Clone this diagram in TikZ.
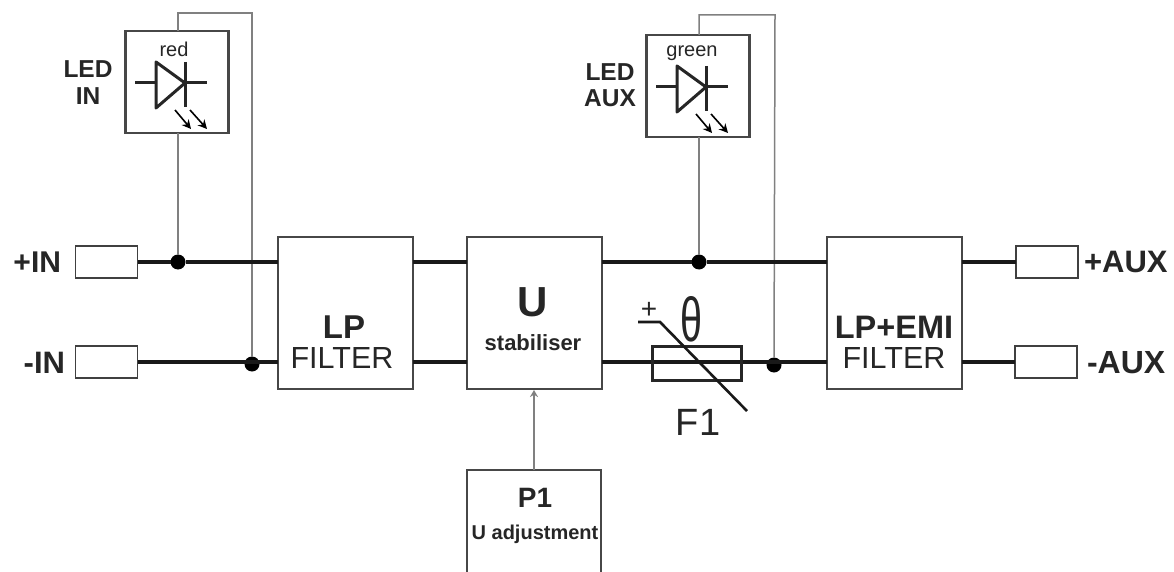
\documentclass[tikz,border=0pt]{standalone}
\usepackage{fontspec}
\usepackage{graphicx}
\setmainfont{Liberation Sans}
\usetikzlibrary{arrows.meta}
\newcommand{\fs}[1]{\fontsize{#1}{#1}\selectfont}
\tikzset{
 x=1pt,y=-1pt,
 blockbox/.style={draw=black!72,line width=2pt,fill=white,inner sep=0pt,outer sep=0pt,minimum width=135pt,minimum height=152pt},
 ledbox/.style={draw=black!72,line width=2.2pt,fill=white,inner sep=0pt,outer sep=0pt,minimum width=103pt,minimum height=102pt},
 term/.style={draw=black!75,line width=1.8pt,fill=white,inner sep=0pt,outer sep=0pt,minimum width=62pt,minimum height=32pt},
 dot/.style={circle,fill=black,inner sep=0pt,outer sep=0pt,minimum size=15pt},
 bus/.style={line width=3.2pt,black!90},
 thinwire/.style={line width=1.5pt,black!50},
 lbl/.style={inner sep=0pt,outer sep=0pt,align=center,text=black!85},
 sym/.style={line width=3pt,black!85},
 pics/ledsym/.style={code={
  \draw[sym,line join=round] (31,31) -- (31,77) -- (60,52) -- cycle;
  \draw[sym] (10,52) -- (31,52);
  \draw[sym] (60,31) -- (60,76);
  \draw[sym] (60,52) -- (82,52);
  \draw[line width=1.6pt,-{Stealth[length=9pt,width=9pt]}] (50,79) -- (66,98);
  \draw[line width=1.6pt,-{Stealth[length=9pt,width=9pt]}] (65,79) -- (82,98);
 }}
}
\begin{document}
\begin{tikzpicture}
\useasboundingbox (0,0) rectangle (1174,572);
\path[fill=white] (0,0) rectangle (1174,572);
% junctions
\node[dot] (j1) at (178,262) {};
\node[dot] (j2) at (252,364) {};
\node[dot] (j3) at (699,262) {};
\node[dot] (j4) at (774,365) {};
\coordinate (c1) at (178,13);
\coordinate (c2) at (252,13);
\coordinate (c3) at (699,15);
\coordinate (c4) at (775,15);
% terminals
\node[term] (tpi) at (106.5,262) {};
\node[term] (tmi) at (106.5,362) {};
\node[term] (tpa) at (1047,262) {};
\node[term] (tma) at (1046,362) {};
% blocks
\node[blockbox] (lp) at (345,313) {};
\node[blockbox] (u) at (534.5,313) {};
\node[blockbox] (emi) at (894.5,313) {};
\node[ledbox] (ledi) at (177,82) {};
\node[ledbox] (leda) at (698,86) {};
% thin wiring
\draw[thinwire] (ledi.south -| j1) -- (j1);
\draw[thinwire] (ledi.north -| c1) -- (c1) -- (c2) -- (j2);
\draw[thinwire] (leda.south -| j3) -- (j3);
\draw[thinwire] (leda.north -| c3) -- (c3) -- (c4) -- (j4);
% P1 open at the page bottom
\coordinate (p1a) at (467,573);
\coordinate (p1b) at (467,470);
\coordinate (p1c) at (601,470);
\coordinate (p1d) at (601,573);
\coordinate (p1t) at (534,470);
\coordinate (ut) at (534,390);
\draw[draw=black!72,line width=2pt] (p1a) -- (p1b) -- (p1c) -- (p1d);
\draw[thinwire,-{Stealth[length=7pt,width=8pt]}] (p1t) -- (ut);
% buses
\draw[bus] (tpi.east) -- (j1) -- (lp.west |- j1);
\draw[bus] (tmi.east) -- (lp.west |- tmi);
\draw[bus] (lp.east |- tpi) -- (u.west |- tpi);
\draw[bus] (lp.east |- tmi) -- (u.west |- tmi);
\draw[bus] (u.east |- tpi) -- (j3) -- (emi.west |- tpi);
\draw[bus] (u.east |- tmi) -- (emi.west |- tmi);
\draw[bus] (emi.east |- tpi) -- (tpa.west);
\draw[bus] (emi.east |- tma) -- (tma.west);
% LED symbols
\path (125,31) pic {ledsym};
\path (646,35) pic {ledsym};
% thermistor
\node[draw=black!85,line width=3pt,fill=none,minimum width=89pt,minimum height=34pt,inner sep=0pt,outer sep=0pt] (f1) at (697,363) {};
\coordinate (t1) at (638,322);
\coordinate (t2) at (660,322);
\coordinate (t3) at (747,411);
\draw[line width=2.6pt,black!90] (t1) -- (t2) -- (t3);
% labels
\node[lbl,font=\fs{24.5}\bfseries] (tledi) at (88,82.5) {LED\\[3pt]IN};
\node[lbl,font=\fs{24.5}\bfseries] (tleda) at (610,85) {LED\\[1pt]AUX};
\node[lbl,font=\fs{20}] (tred) at (174,49) {red};
\node[lbl,font=\fs{20}] (tgreen) at (692,53) {green};
\node[lbl,font=\fs{30}\bfseries,anchor=east] (tpin) at (61,262) {+IN};
\node[lbl,font=\fs{31}\bfseries,anchor=east] (tmin) at (65,363) {-IN};
\node[lbl,font=\fs{31}\bfseries,anchor=west] (tpau) at (1084,262) {+AUX};
\node[lbl,font=\fs{32}\bfseries,anchor=west] (tmau) at (1087,363) {-AUX};
\node[lbl,font=\fs{33}\bfseries] (tlp) at (344,327) {LP};
\node[lbl,font=\fs{30.5}] (tflt) at (342,358) {FILTER};
\node[lbl,font=\fs{42}\bfseries] (tu) at (533,302) {U};
\node[lbl,font=\fs{22}\bfseries] (tst) at (533,343) {stabiliser};
\node[lbl,font=\fs{32.5}\bfseries] (tem) at (894,327) {LP+EMI};
\node[lbl,font=\fs{30.5}] (tfl2) at (894,358) {FILTER};
\node[lbl,font=\fs{28}\bfseries] (tp1) at (535,498) {P1};
\node[lbl,font=\fs{20}\bfseries] (tua) at (535,534) {U adjustment};
\node[lbl,font=\fs{38}] (tf1) at (698,422) {F1};
\node[lbl,font=\fs{28}] (tplus) at (649,310) {+};
\node[lbl] (theta) at (691,319) {\resizebox{22pt}{45pt}{θ}};
\end{tikzpicture}
\end{document}
